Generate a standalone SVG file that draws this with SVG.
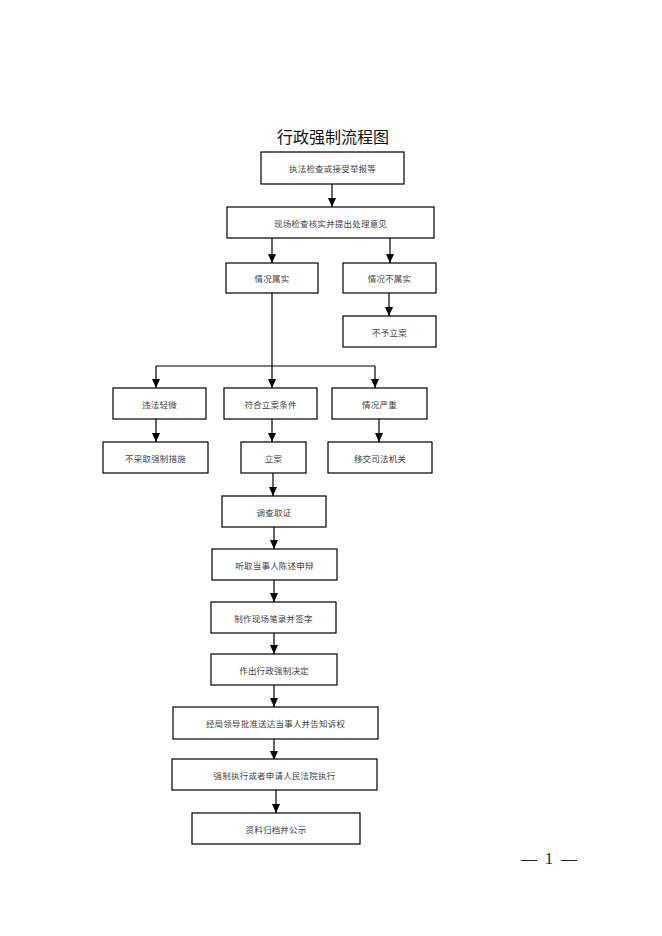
<svg xmlns="http://www.w3.org/2000/svg" width="662" height="936" viewBox="0 0 662 936">
<style>
.box{fill:#fff;stroke:#000;stroke-width:1.2}
.t{font-family:"Noto Sans CJK SC","Noto Sans CJK JP",sans-serif;font-size:8.5px;fill:#444;text-anchor:middle;dominant-baseline:central;letter-spacing:0.2px}
.ln{fill:none;stroke:#000;stroke-width:1.2}
.title{font-family:"Noto Sans CJK SC",sans-serif;font-size:16px;fill:#111;text-anchor:middle}
.pg{font-family:"Liberation Serif",serif;font-size:16px;fill:#222;text-anchor:middle}
</style>
<defs>
<marker id="arr" viewBox="0 0 9 8" refX="9" refY="4" markerWidth="9" markerHeight="8" markerUnits="userSpaceOnUse" orient="auto">
<path d="M0,0 L9,4 L0,8 Z" fill="#000"/>
</marker>
</defs>
<rect width="662" height="936" fill="#fff"/>
<text class="title" x="333" y="143">行政强制流程图</text>

<g id="connectors">
<line class="ln" x1="332" y1="184" x2="332" y2="207" marker-end="url(#arr)"/>
<line class="ln" x1="272" y1="238" x2="272" y2="263" marker-end="url(#arr)"/>
<line class="ln" x1="390" y1="238" x2="390" y2="263" marker-end="url(#arr)"/>
<line class="ln" x1="389" y1="293" x2="389" y2="316" marker-end="url(#arr)"/>
<line class="ln" x1="272" y1="293" x2="272" y2="388" marker-end="url(#arr)"/>
<polyline class="ln" points="156,366 375,366"/>
<line class="ln" x1="156" y1="366" x2="156" y2="388" marker-end="url(#arr)"/>
<line class="ln" x1="375" y1="366" x2="375" y2="388" marker-end="url(#arr)"/>
<line class="ln" x1="156" y1="419" x2="156" y2="442" marker-end="url(#arr)"/>
<line class="ln" x1="272" y1="419" x2="272" y2="442" marker-end="url(#arr)"/>
<line class="ln" x1="379" y1="419" x2="379" y2="442" marker-end="url(#arr)"/>
<line class="ln" x1="273" y1="473" x2="273" y2="496" marker-end="url(#arr)"/>
<line class="ln" x1="274" y1="527" x2="274" y2="549" marker-end="url(#arr)"/>
<line class="ln" x1="274" y1="580" x2="274" y2="602" marker-end="url(#arr)"/>
<line class="ln" x1="274" y1="633" x2="274" y2="654" marker-end="url(#arr)"/>
<line class="ln" x1="274" y1="685" x2="274" y2="707" marker-end="url(#arr)"/>
<line class="ln" x1="274" y1="739" x2="274" y2="760" marker-end="url(#arr)"/>
<line class="ln" x1="276" y1="790" x2="276" y2="813" marker-end="url(#arr)"/>
</g>

<g id="n1"><rect class="box" x="261" y="152" width="143" height="32"/><text class="t" x="332.5" y="168">执法检查或接受举报等</text></g>
<g id="n2"><rect class="box" x="227" y="207" width="207" height="31"/><text class="t" x="330.5" y="222.5">现场检查核实并提出处理意见</text></g>
<g id="n3"><rect class="box" x="226" y="263" width="92" height="30"/><text class="t" x="272" y="278">情况属实</text></g>
<g id="n4"><rect class="box" x="343" y="263" width="93" height="30"/><text class="t" x="389.5" y="278">情况不属实</text></g>
<g id="n5"><rect class="box" x="343" y="316" width="93" height="31"/><text class="t" x="389.5" y="331.5">不予立案</text></g>
<g id="n6"><rect class="box" x="113" y="388" width="93" height="31"/><text class="t" x="159.5" y="403.5">违法轻微</text></g>
<g id="n7"><rect class="box" x="224" y="388" width="93" height="31"/><text class="t" x="270.5" y="403.5">符合立案条件</text></g>
<g id="n8"><rect class="box" x="332" y="388" width="95" height="31"/><text class="t" x="379.5" y="403.5">情况严重</text></g>
<g id="n9"><rect class="box" x="103" y="442" width="105" height="31"/><text class="t" x="155.5" y="457.5">不采取强制措施</text></g>
<g id="n10"><rect class="box" x="241" y="442" width="65" height="31"/><text class="t" x="273.5" y="457.5">立案</text></g>
<g id="n11"><rect class="box" x="328" y="442" width="104" height="31"/><text class="t" x="380" y="457.5">移交司法机关</text></g>
<g id="n12"><rect class="box" x="222" y="496" width="104" height="31"/><text class="t" x="274" y="511.5">调查取证</text></g>
<g id="n13"><rect class="box" x="212" y="549" width="125" height="31"/><text class="t" x="274.5" y="564.5">听取当事人陈述申辩</text></g>
<g id="n14"><rect class="box" x="211" y="602" width="125" height="31"/><text class="t" x="273.5" y="617.5">制作现场笔录并签字</text></g>
<g id="n15"><rect class="box" x="211" y="654" width="126" height="31"/><text class="t" x="274" y="669.5">作出行政强制决定</text></g>
<g id="n16"><rect class="box" x="173" y="707" width="205" height="32"/><text class="t" x="275.5" y="723">经局领导批准送达当事人并告知诉权</text></g>
<g id="n17"><rect class="box" x="172" y="759" width="205" height="31"/><text class="t" x="274.5" y="774.5">强制执行或者申请人民法院执行</text></g>
<g id="n18"><rect class="box" x="192" y="813" width="168" height="31"/><text class="t" x="276" y="828.5">资料归档并公示</text></g>

<g id="page-number">
<text class="pg" x="529" y="864">—</text>
<text class="pg" x="549" y="864">1</text>
<text class="pg" x="569" y="864">—</text>
</g>
</svg>
